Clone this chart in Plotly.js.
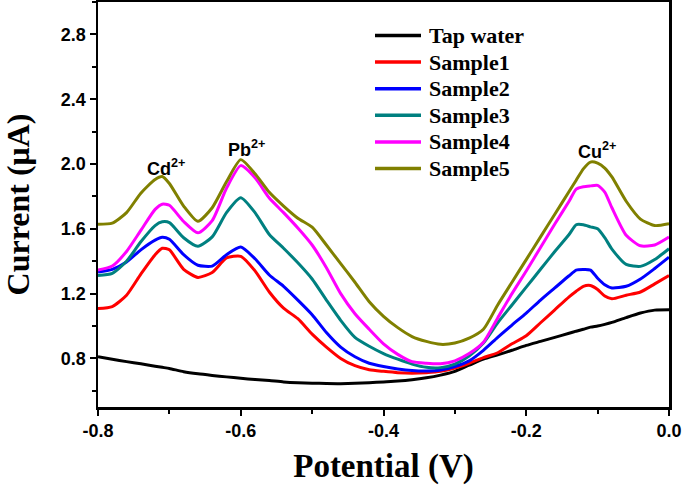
<!DOCTYPE html>
<html>
<head>
<meta charset="utf-8">
<script src="https://cdn.plot.ly/plotly-3.0.1.min.js"></script>
<style>html,body{margin:0;padding:0;background:#fff;}#chart{width:685px;height:490px;}</style>
</head>
<body>
<div id="chart"></div>
<script>
// Potential (V)
const potential = [-0.80,-0.78,-0.76,-0.74,-0.72,-0.71,-0.70,-0.68,-0.66,-0.64,-0.62,-0.60,-0.58,-0.56,-0.54,-0.52,-0.50,-0.48,-0.46,-0.44,-0.42,-0.40,-0.38,-0.36,-0.34,-0.32,-0.30,-0.28,-0.26,-0.24,-0.22,-0.20,-0.18,-0.16,-0.14,-0.13,-0.12,-0.11,-0.10,-0.09,-0.08,-0.06,-0.04,-0.02,0.00];

// Current (uA) for each series
const tapWater = [0.810,0.795,0.780,0.767,0.752,0.745,0.738,0.718,0.705,0.695,0.686,0.677,0.670,0.663,0.655,0.650,0.647,0.645,0.644,0.646,0.650,0.655,0.660,0.668,0.680,0.697,0.720,0.758,0.795,0.822,0.850,0.880,0.905,0.930,0.955,0.968,0.980,0.993,1.000,1.010,1.022,1.052,1.080,1.098,1.100];
const sample1 = [1.108,1.120,1.190,1.320,1.440,1.480,1.470,1.350,1.300,1.330,1.420,1.430,1.340,1.210,1.110,1.045,0.950,0.870,0.800,0.755,0.730,0.720,0.712,0.709,0.712,0.720,0.740,0.770,0.805,0.835,0.890,0.940,1.020,1.100,1.180,1.215,1.245,1.250,1.225,1.185,1.168,1.190,1.210,1.260,1.312];
const sample2 = [1.333,1.350,1.395,1.470,1.530,1.548,1.535,1.440,1.375,1.370,1.440,1.487,1.415,1.315,1.245,1.160,1.070,0.960,0.870,0.810,0.770,0.750,0.735,0.725,0.722,0.728,0.750,0.785,0.850,0.930,1.006,1.080,1.160,1.235,1.310,1.345,1.348,1.345,1.295,1.255,1.235,1.245,1.290,1.355,1.425];
const sample3 = [1.312,1.325,1.400,1.520,1.620,1.643,1.638,1.545,1.492,1.550,1.700,1.792,1.700,1.565,1.480,1.390,1.290,1.160,1.035,0.930,0.875,0.830,0.795,0.765,0.745,0.743,0.765,0.815,0.895,1.020,1.130,1.240,1.350,1.460,1.565,1.625,1.625,1.612,1.600,1.545,1.475,1.380,1.368,1.410,1.477];
const sample4 = [1.345,1.370,1.460,1.590,1.720,1.752,1.745,1.645,1.575,1.650,1.850,1.990,1.915,1.790,1.700,1.605,1.500,1.360,1.200,1.076,0.980,0.890,0.825,0.780,0.770,0.767,0.785,0.830,0.900,1.050,1.200,1.340,1.485,1.630,1.770,1.845,1.860,1.865,1.868,1.827,1.730,1.560,1.495,1.500,1.549];
const sample5 = [1.628,1.635,1.700,1.820,1.905,1.923,1.880,1.740,1.646,1.730,1.890,2.027,1.940,1.825,1.740,1.665,1.610,1.500,1.385,1.270,1.150,1.060,0.990,0.935,0.905,0.887,0.895,0.925,0.980,1.130,1.270,1.410,1.550,1.690,1.830,1.900,1.970,2.012,2.005,1.975,1.920,1.770,1.660,1.620,1.632];

const seriesNames = ['Tap water','Sample1','Sample2','Sample3','Sample4','Sample5'];
const seriesValues = [tapWater, sample1, sample2, sample3, sample4, sample5];
const seriesColors = ['#000000','#FF0000','#0000FF','#008080','#FF00FF','#808000'];

const xTickVals = [-0.8,-0.6,-0.4,-0.2,0.0];
const xTickLabels = ['-0.8','-0.6','-0.4','-0.2','0.0'];
const yTickVals = [0.8,1.2,1.6,2.0,2.4,2.8];
const yTickLabels = ['0.8','1.2','1.6','2.0','2.4','2.8'];

const peakLabels = ['Cd<sup>2+</sup>','Pb<sup>2+</sup>','Cu<sup>2+</sup>'];
const peakX = [-0.705,-0.592,-0.101];
const peakY = [1.98,2.095,2.085];

const traces = seriesNames.map((n,i)=>({
  x: potential, y: seriesValues[i], name: n, type:'scatter', mode:'lines', showlegend:false,
  line:{color: seriesColors[i], width:3, shape:'spline', smoothing:0.6}
}));

const sans = 'Liberation Sans, Arial, sans-serif';
const serif = 'Liberation Serif, Times New Roman, serif';

// legend box geometry (paper coords, plot area = 98..669 px by 2..407 px)
const M = {l:98, r:16, t:2, b:83};
const PW = 685 - M.l - M.r, PH = 490 - M.t - M.b;
const px2x = p => (p - M.l) / PW;
const py2y = p => 1 - (p - M.t) / PH;
const legLineX0 = 375, legLineX1 = 421, legTextX = 427, legRow0 = 35.5, legRowStep = 26.6;

const shapes = seriesNames.map((n,i)=>({
  type:'line', xref:'paper', yref:'paper',
  x0:px2x(legLineX0), x1:px2x(legLineX1),
  y0:py2y(legRow0 + i*legRowStep), y1:py2y(legRow0 + i*legRowStep),
  line:{color:seriesColors[i], width:3.5}
}));

const legendTexts = seriesNames.map((n,i)=>({
  xref:'paper', yref:'paper', x:px2x(legTextX), y:py2y(legRow0 + i*legRowStep),
  xanchor:'left', yanchor:'middle', text:n, showarrow:false,
  font:{family:serif, size:22, color:'#000', weight:'bold'}
}));

const peakAnn = peakLabels.map((t,i)=>({x:peakX[i], y:peakY[i], xref:'x', yref:'y', text:t, showarrow:false,
    font:{family:sans, size:18, color:'#000', weight:'bold'}}));

const layout = {
  width:685, height:490,
  margin:M,
  paper_bgcolor:'#fff', plot_bgcolor:'#fff',
  showlegend:false,
  xaxis:{range:[-0.8,0.0], tickmode:'array', tickvals:xTickVals, ticktext:xTickLabels,
    ticks:'outside', ticklen:6, tickwidth:2, tickcolor:'#000',
    minor:{tickmode:'linear', tick0:-0.8, dtick:0.1, ticks:'outside', ticklen:4, tickwidth:2, tickcolor:'#000', showgrid:false},
    showline:true, linewidth:2.5, linecolor:'#000', mirror:true, showgrid:false, zeroline:false,
    tickfont:{family:sans, size:18, color:'#000', weight:'bold'},
    title:{text:'Potential (V)', font:{family:serif, size:33, color:'#000', weight:'bold'}, standoff:14}},
  yaxis:{range:[0.5,3.0], tickmode:'array', tickvals:yTickVals, ticktext:yTickLabels,
    ticks:'outside', ticklen:6, tickwidth:2, tickcolor:'#000',
    minor:{tickmode:'linear', tick0:0.6, dtick:0.2, ticks:'outside', ticklen:4, tickwidth:2, tickcolor:'#000', showgrid:false},
    showline:true, linewidth:2.5, linecolor:'#000', mirror:true, showgrid:false, zeroline:false,
    tickfont:{family:sans, size:18, color:'#000', weight:'bold'},
    title:{text:'Current (μA)', font:{family:serif, size:32, color:'#000', weight:'bold'}, standoff:24}},
  shapes: shapes,
  annotations: peakAnn.concat(legendTexts)
};

Plotly.newPlot('chart', traces, layout, {staticPlot:true, displayModeBar:false});
</script>
</body>
</html>
